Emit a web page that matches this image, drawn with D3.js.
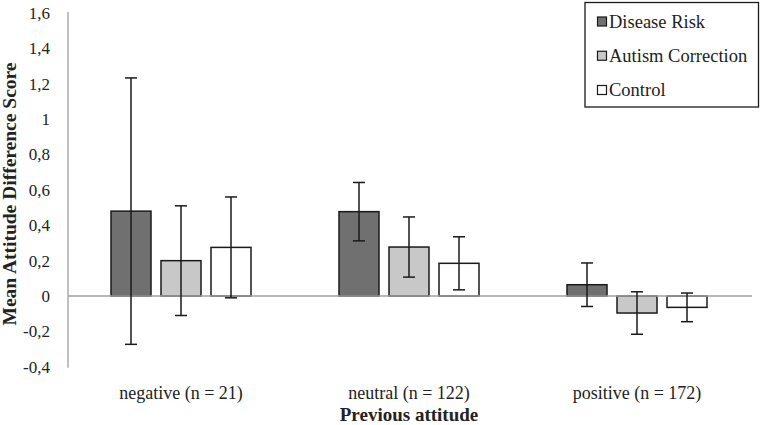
<!DOCTYPE html>
<html><head><meta charset="utf-8">
<script src="https://cdn.jsdelivr.net/npm/d3@7"></script>
<style>body{margin:0;background:#fff}svg{display:block}text{font-family:"Liberation Serif","DejaVu Serif",serif;fill:#222}</style>
</head><body><svg id="c" width="762" height="425"></svg>
<script>
const categories = ["negative (n = 21)", "neutral (n = 122)", "positive (n = 172)"];
const seriesNames = ["Disease Risk", "Autism Correction", "Control"];
const diseaseRisk = [0.48, 0.477, 0.064];
const diseaseRiskErr = [0.753, 0.165, 0.123];
const autismCorrection = [0.20, 0.277, -0.096];
const autismCorrectionErr = [0.31, 0.17, 0.12];
const control = [0.275, 0.185, -0.064];
const controlErr = [0.285, 0.15, 0.081];
const yTicks = [-0.4, -0.2, 0, 0.2, 0.4, 0.6, 0.8, 1, 1.2, 1.4, 1.6];
const colors = ["#707070", "#c8c8c8", "#ffffff"];

const values = [diseaseRisk, autismCorrection, control];
const errs = [diseaseRiskErr, autismCorrectionErr, controlErr];

const svg = d3.select("#c");
const y = d3.scaleLinear().domain([-0.4, 1.6]).range([366.8, 13]);
const x0 = d3.scaleBand().domain(categories).range([68, 752]).paddingInner(0).paddingOuter(0);
const x1 = d3.scaleBand().domain(seriesNames).range([0, 140]).paddingInner(0.2).paddingOuter(0);
const groupOffset = (x0.bandwidth() - 140) / 2 - 1;

// y axis
const yAxis = d3.axisLeft(y).tickValues(yTicks).tickSize(0).tickPadding(18)
  .tickFormat(d => String(+d.toFixed(1)).replace(".", ","));
const ga = svg.append("g").attr("transform", "translate(68,0)").call(yAxis);
ga.select(".domain").attr("stroke", "#a0a0a0").attr("stroke-width", 1.3).attr("d", "M0," + (y(1.6) - 1) + "V" + (y(-0.4) + 1));
ga.selectAll("text").attr("font-size", 17).attr("fill", "#222").attr("font-family", "Liberation Serif");

// bars
const data = [];
categories.forEach((c, i) => seriesNames.forEach((s, j) => data.push({c, s, j, v: values[j][i], e: errs[j][i]})));

svg.append("g").selectAll("rect").data(data).join("rect")
  .attr("x", d => x0(d.c) + groupOffset + x1(d.s))
  .attr("width", x1.bandwidth())
  .attr("y", d => y(Math.max(0, d.v)))
  .attr("height", d => Math.abs(y(d.v) - y(0)))
  .attr("fill", d => colors[d.j]).attr("stroke", "#1a1a1a").attr("stroke-width", 1.5);

// zero line
svg.append("line").attr("x1", 68).attr("x2", 752).attr("y1", y(0)).attr("y2", y(0))
  .attr("stroke", "#a0a0a0").attr("stroke-width", 1.5);

// error bars
const eg = svg.append("g").attr("stroke", "#1a1a1a").attr("stroke-width", 1.5);
data.forEach(d => {
  const cx = x0(d.c) + groupOffset + x1(d.s) + x1.bandwidth() / 2;
  eg.append("line").attr("x1", cx).attr("x2", cx).attr("y1", y(d.v + d.e)).attr("y2", y(d.v - d.e));
  [d.v + d.e, d.v - d.e].forEach(v => eg.append("line").attr("x1", cx - 6).attr("x2", cx + 6).attr("y1", y(v)).attr("y2", y(v)));
});

// x labels
svg.append("g").selectAll("text").data(categories).join("text")
  .attr("x", d => x0(d) + x0.bandwidth() / 2 - 1).attr("y", 399).attr("text-anchor", "middle")
  .attr("font-size", 18).text(d => d);

svg.append("text").attr("x", 409).attr("y", 421).attr("text-anchor", "middle")
  .attr("font-size", 19).attr("font-weight", "bold").text("Previous attitude");

svg.append("text").attr("transform", "translate(16,194) rotate(-90)").attr("text-anchor", "middle")
  .attr("font-size", 19.5).attr("font-weight", "bold").text("Mean Attitude Difference Score");

// legend
const lg = svg.append("g");
lg.append("rect").attr("x", 585).attr("y", 2.5).attr("width", 173.5).attr("height", 104.5)
  .attr("fill", "#fff").attr("stroke", "#1a1a1a").attr("stroke-width", 1.3);
const ly = d3.scalePoint().domain(seriesNames).range([21.5, 90]);
seriesNames.forEach((s, j) => {
  lg.append("rect").attr("x", 597.5).attr("y", ly(s) - 4.5).attr("width", 9).attr("height", 9)
    .attr("fill", colors[j]).attr("stroke", "#1a1a1a").attr("stroke-width", 1.2);
  lg.append("text").attr("x", 609).attr("y", ly(s) + 6).attr("font-size", 18.5).text(s);
});
</script></body></html>
